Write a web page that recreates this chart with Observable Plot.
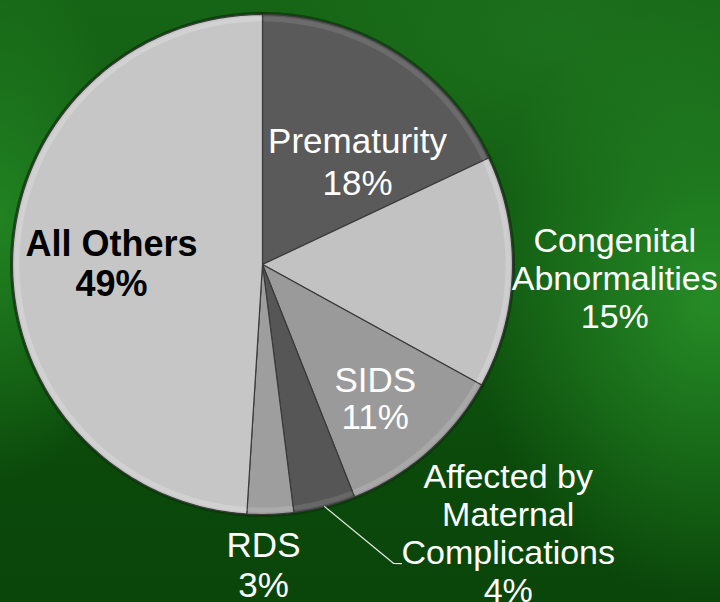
<!DOCTYPE html>
<html>
<head>
<meta charset="utf-8">
<script src="https://cdn.jsdelivr.net/npm/d3@7"></script>
<script src="https://cdn.jsdelivr.net/npm/@observablehq/plot@0.6"></script>
<style>
  html, body { margin: 0; padding: 0; width: 720px; height: 602px; overflow: hidden; }
  #chart svg { display: block; }
</style>
</head>
<body>
<div id="chart"></div>
<script>
// ---- data ----
const names = ["Prematurity", "Congenital Abnormalities", "SIDS", "Affected by Maternal Complications", "RDS", "All Others"];
const labelLines = ["Prematurity", "Congenital\nAbnormalities", "SIDS", "Affected by\nMaternal\nComplications", "RDS", "All Others"];
const values = [18, 15, 11, 4, 3, 49];

// ---- styles / layout ----
const fills = ["#5a5a5a", "#c2c2c2", "#9a9a9a", "#565656", "#9e9e9e", "#c6c6c6"];
const rims  = ["#7c7c7c", "#dadada", "#b5b5b5", "#777777", "#b8b8b8", "#dcdcdc"];
// label placement: radius factor and angular offset (degrees) from slice mid-angle
const labelR = [0.564, 1.41, 0.70, 1.455, 1.20, 0.604];
const labelDA = [10, 0.3, 1.3, -28.1, 1.6, -1.4];
const labelColor = ["white", "white", "white", "white", "white", "black"];
const labelWeight = ["normal", "normal", "normal", "normal", "normal", "bold"];
const labelSize = [35, 34, 35, 34, 35, 36];
const labelLH = [1.2, 1.12, 1.06, 1.12, 1.12, 1.12];

const rad = Math.PI / 180;
const total = d3.sum(values);
let acc = 0;
const slices = names.map((name, i) => {
  const a0 = acc / total * 2 * Math.PI;
  acc += values[i];
  const a1 = acc / total * 2 * Math.PI;
  return {name, i, value: values[i], a0, a1, mid: (a0 + a1) / 2};
});
const polar = (a, r) => ({x: r * Math.sin(a), y: r * Math.cos(a)});

const arcPts = (s, r, withCenter) => {
  const n = Math.max(2, Math.ceil((s.a1 - s.a0) / rad));
  const pts = withCenter ? [polar(0, 0)] : [];
  for (let k = 0; k <= n; k++) pts.push(polar(s.a0 + (s.a1 - s.a0) * k / n, r));
  return pts.map(p => ({...p, name: s.name, fill: fills[s.i], rim: rims[s.i]}));
};
const slicePts = slices.flatMap(s => arcPts(s, 1, true));
const rimPts = slices.flatMap(s => arcPts({...s, a0: s.a0 + 0.012, a1: s.a1 - 0.012}, 0.982, false));

const labels = slices.map(s => {
  const p = polar(s.mid + labelDA[s.i] * rad, labelR[s.i]);
  return {...p, text: labelLines[s.i] + "\n" + values[s.i] + "%", i: s.i};
});

// leader line for the maternal-complications label
const mat = slices[3];
const leader = [
  polar(mat.mid, 1.0),
  polar(156.3 * rad, 1.306),
  polar(155.07 * rad, 1.319)
];

const font = "Arial, 'Liberation Sans', Helvetica, sans-serif";
const textMarks = [0, 1, 2, 3, 4, 5].map(i =>
  Plot.text(labels.filter(d => d.i === i), {
    x: "x", y: "y", text: "text",
    fill: labelColor[i], fontWeight: labelWeight[i],
    fontSize: labelSize[i], lineHeight: labelLH[i], fontFamily: font
  })
);

const chart = Plot.plot({
  width: 720,
  height: 602,
  marginLeft: 12,
  marginRight: 208,
  marginTop: 14,
  marginBottom: 88,
  x: {domain: [-1, 1], axis: null},
  y: {domain: [-1, 1], axis: null},
  color: {type: "identity"},
  style: {
    background: "radial-gradient(ellipse 240px 300px at 710px 300px, rgba(40,145,40,0.9), rgba(40,145,40,0) 100%), radial-gradient(ellipse 140px 260px at 0px 220px, rgba(35,135,35,0.9), rgba(35,135,35,0) 100%), radial-gradient(ellipse 300px 160px at 560px 40px, rgba(30,115,30,0.8), rgba(30,115,30,0) 100%), linear-gradient(180deg, #166516 0%, #125a12 40%, #0b4a0b 75%, #0a450a 100%)",
    fontFamily: font
  },
  marks: [
    Plot.line(slicePts, {x: "x", y: "y", z: "name", curve: "linear-closed", fill: "#083408", stroke: "#083408", strokeWidth: 5, strokeOpacity: 0.7}),
    Plot.line(slicePts, {x: "x", y: "y", z: "name", curve: "linear-closed", fill: "fill", stroke: "#3a3a3a", strokeWidth: 1.2}),
    Plot.line(rimPts, {x: "x", y: "y", z: "name", stroke: "rim", strokeWidth: 5, strokeOpacity: 0.5}),
    Plot.line(leader, {x: "x", y: "y", stroke: "#e8e8e8", strokeWidth: 1.2}),
    ...textMarks
  ]
});
document.getElementById("chart").appendChild(chart);
</script>
</body>
</html>
